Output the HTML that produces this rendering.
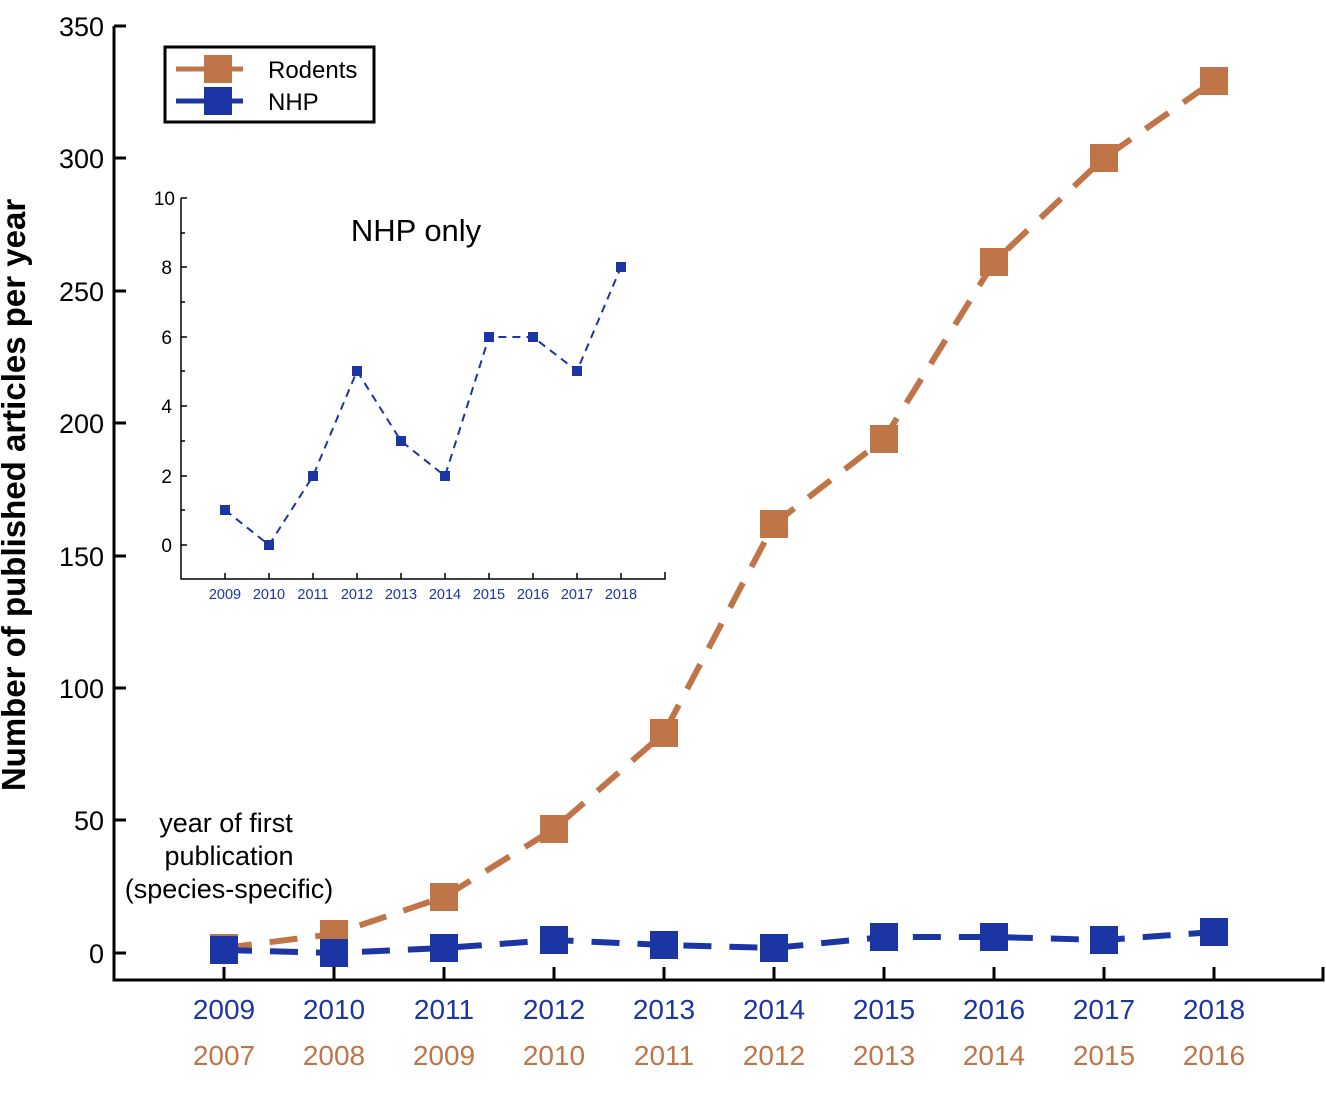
<!DOCTYPE html><html><head><style>body{margin:0;background:#fff}svg{display:block;font-family:"Liberation Sans",Arial,sans-serif}</style></head><body>
<svg width="1326" height="1116" viewBox="0 0 1326 1116" xmlns="http://www.w3.org/2000/svg">
<g stroke="#000" stroke-width="3" fill="none">
<path d="M114 26 H126 M114 26 V980 H1323 V967"/>
<path d="M114 158H126M114 291H126M114 423H126M114 556H126M114 688H126M114 820H126M114 953H126"/>
<path d="M224 980v-13M334 980v-13M444 980v-13M554 980v-13M664 980v-13M774 980v-13M884 980v-13M994 980v-13M1104 980v-13M1214 980v-13"/>
</g>
<g font-size="27" text-anchor="end" fill="#000">
<text x="104" y="36">350</text><text x="104" y="168">300</text><text x="104" y="301">250</text><text x="104" y="433">200</text><text x="104" y="566">150</text><text x="104" y="698">100</text><text x="104" y="830">50</text><text x="104" y="963">0</text>
</g>
<text transform="translate(25 495) rotate(-90)" font-size="33" font-weight="bold" text-anchor="middle">Number of published articles per year</text>
<g font-size="28" text-anchor="middle" fill="#1C35A5">
<text x="224" y="1019">2009</text><text x="334" y="1019">2010</text><text x="444" y="1019">2011</text><text x="554" y="1019">2012</text><text x="664" y="1019">2013</text><text x="774" y="1019">2014</text><text x="884" y="1019">2015</text><text x="994" y="1019">2016</text><text x="1104" y="1019">2017</text><text x="1214" y="1019">2018</text>
</g>
<g font-size="28" text-anchor="middle" fill="#C07548">
<text x="224" y="1065">2007</text><text x="334" y="1065">2008</text><text x="444" y="1065">2009</text><text x="554" y="1065">2010</text><text x="664" y="1065">2011</text><text x="774" y="1065">2012</text><text x="884" y="1065">2013</text><text x="994" y="1065">2014</text><text x="1104" y="1065">2015</text><text x="1214" y="1065">2016</text>
</g>
<g font-size="27" text-anchor="middle"><text x="226" y="832">year of first</text><text x="229" y="865">publication</text><text x="229" y="898">(species-specific)</text></g>
<polyline points="224,948 334,934 444,897 554,829 664,733 774,524 884,439 994,262 1104,158 1214,81" fill="none" stroke="#C07548" stroke-width="6" stroke-dasharray="28,18"/>
<g fill="#C07548"><rect x="210" y="934" width="28" height="28"/><rect x="320" y="920" width="28" height="28"/><rect x="430" y="883" width="28" height="28"/><rect x="540" y="815" width="28" height="28"/><rect x="650" y="719" width="28" height="28"/><rect x="760" y="510" width="28" height="28"/><rect x="870" y="425" width="28" height="28"/><rect x="980" y="248" width="28" height="28"/><rect x="1090" y="144" width="28" height="28"/><rect x="1200" y="67" width="28" height="28"/></g>
<polyline points="224,950 334,953 444,948 554,940 664,945 774,948 884,937 994,937 1104,940 1214,932" fill="none" stroke="#1C35A5" stroke-width="6" stroke-dasharray="28,18"/>
<g fill="#1C35A5"><rect x="210" y="936" width="28" height="28"/><rect x="320" y="939" width="28" height="28"/><rect x="430" y="934" width="28" height="28"/><rect x="540" y="926" width="28" height="28"/><rect x="650" y="931" width="28" height="28"/><rect x="760" y="934" width="28" height="28"/><rect x="870" y="923" width="28" height="28"/><rect x="980" y="923" width="28" height="28"/><rect x="1090" y="926" width="28" height="28"/><rect x="1200" y="918" width="28" height="28"/></g>
<rect x="165" y="47" width="209" height="75" fill="#fff" stroke="#000" stroke-width="3"/>
<path d="M176 69H243" stroke-width="5" stroke="#C07548"/><path d="M176 101H243" stroke-width="5" stroke="#1C35A5"/>
<rect x="204" y="55" width="28" height="28" fill="#C07548"/><rect x="204" y="87" width="28" height="28" fill="#1C35A5"/>
<text x="268" y="78" font-size="24">Rodents</text><text x="268" y="110" font-size="24">NHP</text>
<g stroke="#000" stroke-width="1.5" fill="none">
<path d="M181 198V579H665V572M181 198h6M181 233h4M181 267h6M181 302h4M181 337h6M181 371h4M181 406h6M181 441h4M181 476h6M181 510h4M181 545h6"/>
<path d="M225 579v-6M269 579v-6M313 579v-6M357 579v-6M401 579v-6M445 579v-6M489 579v-6M533 579v-6M577 579v-6M621 579v-6"/>
</g>
<g font-size="19" text-anchor="end"><text x="175" y="205">10</text><text x="172" y="274">8</text><text x="172" y="344">6</text><text x="172" y="413">4</text><text x="172" y="483">2</text><text x="172" y="552">0</text></g>
<g font-size="14.5" text-anchor="middle" fill="#1C35A5"><text x="225" y="599">2009</text><text x="269" y="599">2010</text><text x="313" y="599">2011</text><text x="357" y="599">2012</text><text x="401" y="599">2013</text><text x="445" y="599">2014</text><text x="489" y="599">2015</text><text x="533" y="599">2016</text><text x="577" y="599">2017</text><text x="621" y="599">2018</text></g>
<text x="416" y="241" font-size="31" text-anchor="middle">NHP only</text>
<polyline points="225,510 269,545 313,476 357,371 401,441 445,476 489,337 533,337 577,371 621,267" fill="none" stroke="#1C35A5" stroke-width="2" stroke-dasharray="8,6"/>
<g fill="#1C35A5"><rect x="220" y="505" width="10" height="10"/><rect x="264" y="540" width="10" height="10"/><rect x="308" y="471" width="10" height="10"/><rect x="352" y="366" width="10" height="10"/><rect x="396" y="436" width="10" height="10"/><rect x="440" y="471" width="10" height="10"/><rect x="484" y="332" width="10" height="10"/><rect x="528" y="332" width="10" height="10"/><rect x="572" y="366" width="10" height="10"/><rect x="616" y="262" width="10" height="10"/></g>
</svg></body></html>
